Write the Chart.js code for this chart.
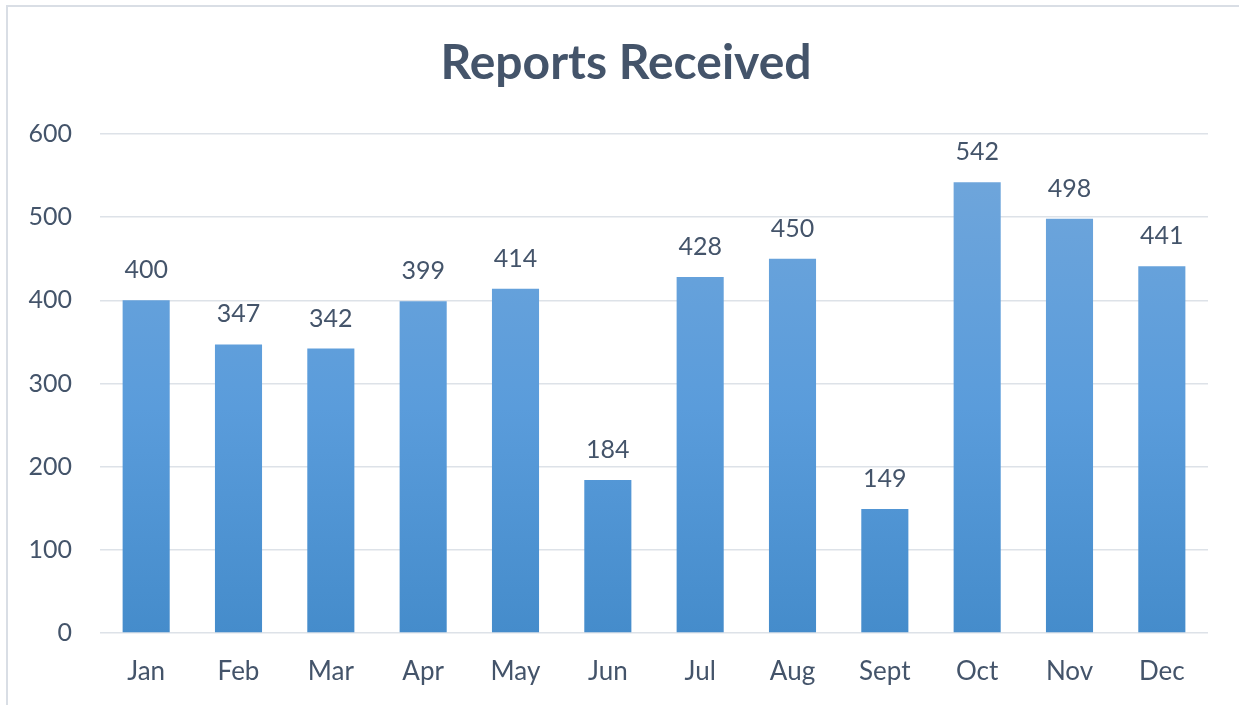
<!DOCTYPE html>
<html>
<head>
<meta charset="utf-8">
<script src="https://cdn.jsdelivr.net/npm/chart.js@4/dist/chart.umd.min.js"></script>
<style>
    html, body { margin: 0; padding: 0; background: #fff; }
    #chart_wrapper { width: 1239px; height: 705px; }
</style>
</head>
<body>
<div id="chart_wrapper"><canvas id="chart"></canvas></div>
<script>
var months = ["Jan", "Feb", "Mar", "Apr", "May", "Jun", "Jul", "Aug", "Sept", "Oct", "Nov", "Dec"];
var reports = [400, 347, 342, 399, 414, 184, 428, 450, 149, 542, 498, 441];
var yTicks = [0, 100, 200, 300, 400, 500, 600];

var textColor = "#44546A";
var fontFamily = "Lato, 'Open Sans', sans-serif";

// frame round the whole chart + the title (Excel centres it a bit right of the plot)
var framePlugin = {
    id: "frame",
    beforeDraw: function (chart) {
        var ctx = chart.ctx;
        ctx.save();
        ctx.fillStyle = "#fff";
        ctx.fillRect(0, 0, chart.width, chart.height);
        ctx.strokeStyle = "#D9DEE5";
        ctx.lineWidth = 2;
        ctx.strokeRect(7, 6, chart.width + 20, chart.height + 20);

        ctx.font = "bold 48px " + fontFamily;
        ctx.fillStyle = textColor;
        ctx.textAlign = "center";
        ctx.textBaseline = "middle";
        ctx.fillText("Reports Received", 626, 64);
        ctx.restore();
    }
};

// value above each bar
var valueLabels = {
    id: "valueLabels",
    afterDatasetsDraw: function (chart) {
        var ctx = chart.ctx;
        var meta = chart.getDatasetMeta(0);
        ctx.save();
        ctx.font = "25px " + fontFamily;
        ctx.fillStyle = textColor;
        ctx.textAlign = "center";
        ctx.textBaseline = "alphabetic";
        meta.data.forEach(function (bar, i) {
            ctx.fillText(String(reports[i]), bar.x, bar.y - 22);
        });
        ctx.restore();
    }
};

function barGradient(context) {
    var area = context.chart.chartArea;
    if (!area) {
        return "#5B9BD5";
    }
    var g = context.chart.ctx.createLinearGradient(0, area.top, 0, area.bottom);
    g.addColorStop(0, "#72A7DB");
    g.addColorStop(0.55, "#5A9CDB");
    g.addColorStop(1, "#458CCB");
    return g;
}

var chart = new Chart(document.getElementById("chart"), {
    type: "bar",
    data: {
        labels: months,
        datasets: [{
            label: "Reports Received",
            data: reports,
            backgroundColor: barGradient,
            borderWidth: 0,
            barPercentage: 0.51,
            categoryPercentage: 1
        }]
    },
    options: {
        responsive: true,
        maintainAspectRatio: false,
        animation: false,
        layout: { padding: { left: 0, right: 31, top: 134, bottom: 0 } },
        plugins: {
            legend: { display: false },
            tooltip: { enabled: false },
            title: { display: false }
        },
        scales: {
            x: {
                grid: { display: false },
                border: { display: false },
                ticks: {
                    color: textColor,
                    font: { family: fontFamily, size: 26 },
                    padding: 15
                },
                afterFit: function (scale) { scale.height = 72; }
            },
            y: {
                min: 0,
                max: 600,
                afterBuildTicks: function (scale) {
                    scale.ticks = yTicks.map(function (v) { return { value: v }; });
                },
                grid: { color: "#DDE2E8", lineWidth: 1.5, drawTicks: false },
                border: { display: false },
                ticks: {
                    color: textColor,
                    font: { family: fontFamily, size: 25 },
                    padding: 28
                },
                afterFit: function (scale) { scale.width = 100; }
            }
        }
    },
    plugins: [framePlugin, valueLabels]
});
</script>
</body>
</html>
